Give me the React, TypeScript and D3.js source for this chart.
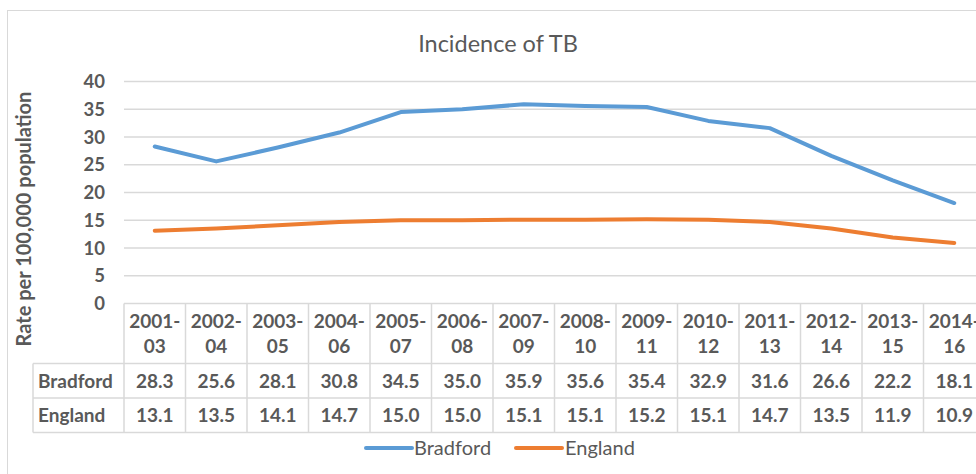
import { useMemo } from "react";
import * as d3 from "d3";

const periods = [
  "2001-03", "2002-04", "2003-05", "2004-06", "2005-07", "2006-08", "2007-09",
  "2008-10", "2009-11", "2010-12", "2011-13", "2012-14", "2013-15", "2014-16",
];
const bradford = [28.3, 25.6, 28.1, 30.8, 34.5, 35.0, 35.9, 35.6, 35.4, 32.9, 31.6, 26.6, 22.2, 18.1];
const england = [13.1, 13.5, 14.1, 14.7, 15.0, 15.0, 15.1, 15.1, 15.2, 15.1, 14.7, 13.5, 11.9, 10.9];
const yTicks = [0, 5, 10, 15, 20, 25, 30, 35, 40];

const W = 976;
const H = 474;
const FONT = "Lato, 'Open Sans', sans-serif";
const TEXT = "#595959";
const GRID = "#d9d9d9";
const BLUE = "#5b9bd5";
const ORANGE = "#ed7d31";

export default function App() {
  const x = useMemo(
    () => d3.scaleBand<string>().domain(periods).range([124, 124 + periods.length * 61.5]),
    [],
  );
  const y = useMemo(() => d3.scaleLinear().domain([0, 40]).range([303.5, 81.5]), []);

  const line = d3
    .line<number>()
    .x((_, i) => x(periods[i])! + x.bandwidth() / 2)
    .y((d) => y(d));

  const series = [
    { name: "Bradford", values: bradford, color: BLUE },
    { name: "England", values: england, color: ORANGE },
  ];

  const tableTop = 303.5;
  const headerBottom = 363.5;
  const rowH = 34.5;
  const labelLeft = 33;

  return (
    <div style={{ position: "fixed", left: 0, top: 0, background: "#fff" }}>
      <svg width={W} height={H} style={{ display: "block", fontFamily: FONT }}>
        <rect x={0} y={0} width={W} height={H} fill="#fff" />
        <rect x={7.5} y={10.5} width={W + 20} height={H + 20} fill="none" stroke={GRID} />

        <text x={498} y={52} textAnchor="middle" fontSize={23.5} fill={TEXT}>
          Incidence of TB
        </text>

        {/* gridlines */}
        {yTicks.filter((t) => t > 0).map((t) => (
          <line key={t} x1={124} x2={W} y1={y(t)} y2={y(t)} stroke={GRID} strokeWidth={1.5} />
        ))}

        {/* y tick labels */}
        {yTicks.map((t) => (
          <text
            key={t}
            x={105}
            y={y(t)}
            dy="0.36em"
            textAnchor="end"
            fontSize={18.5}
            fontWeight="bold"
            fill={TEXT}
          >
            {t}
          </text>
        ))}

        <text
          transform={`translate(31,${219}) rotate(-90)`}
          textAnchor="middle"
          fontSize={20}
          fontWeight="bold"
          fill={TEXT}
        >
          Rate per 100,000 population
        </text>

        {/* lines */}
        {series.map((s) => (
          <path
            key={s.name}
            d={line(s.values)!}
            fill="none"
            stroke={s.color}
            strokeWidth={4}
            strokeLinejoin="round"
            strokeLinecap="round"
          />
        ))}

        {/* data table */}
        <g stroke={GRID} strokeWidth={1.5}>
          <line x1={124} x2={W} y1={tableTop} y2={tableTop} />
          <line x1={labelLeft} x2={W} y1={headerBottom} y2={headerBottom} />
          <line x1={labelLeft} x2={W} y1={headerBottom + rowH} y2={headerBottom + rowH} />
          <line x1={labelLeft} x2={W} y1={headerBottom + 2 * rowH} y2={headerBottom + 2 * rowH} />
          <line x1={labelLeft} x2={labelLeft} y1={headerBottom} y2={headerBottom + 2 * rowH} />
          {periods.map((p) => (
            <line key={p} x1={x(p)!} x2={x(p)!} y1={tableTop} y2={headerBottom + 2 * rowH} />
          ))}
          <line x1={x.range()[1]} x2={x.range()[1]} y1={tableTop} y2={headerBottom + 2 * rowH} />
        </g>

        {periods.map((p) => {
          const [a, b] = p.split("-");
          const cx = x(p)! + x.bandwidth() / 2;
          return (
            <g key={p} fontSize={19} fontWeight="bold" fill={TEXT} textAnchor="middle">
              <text x={cx} y={328}>{a}-</text>
              <text x={cx} y={353}>{b}</text>
            </g>
          );
        })}

        {series.map((s, r) => {
          const baseline = headerBottom + r * rowH + 24;
          return (
            <g key={s.name} fontSize={19} fontWeight="bold" fill={TEXT}>
              <text x={labelLeft + 5} y={baseline}>{s.name}</text>
              {s.values.map((v, i) => (
                <text
                  key={i}
                  x={x(periods[i])! + x.bandwidth() / 2}
                  y={baseline}
                  textAnchor="middle"
                >
                  {v.toFixed(1)}
                </text>
              ))}
            </g>
          );
        })}

        {/* legend */}
        <g fontSize={20} fill={TEXT}>
          <line x1={366} x2={412} y1={448} y2={448} stroke={BLUE} strokeWidth={4} strokeLinecap="round" />
          <text x={414} y={448} dy="0.36em">Bradford</text>
          <line x1={516} x2={562} y1={448} y2={448} stroke={ORANGE} strokeWidth={4} strokeLinecap="round" />
          <text x={565} y={448} dy="0.36em">England</text>
        </g>
      </svg>
    </div>
  );
}
